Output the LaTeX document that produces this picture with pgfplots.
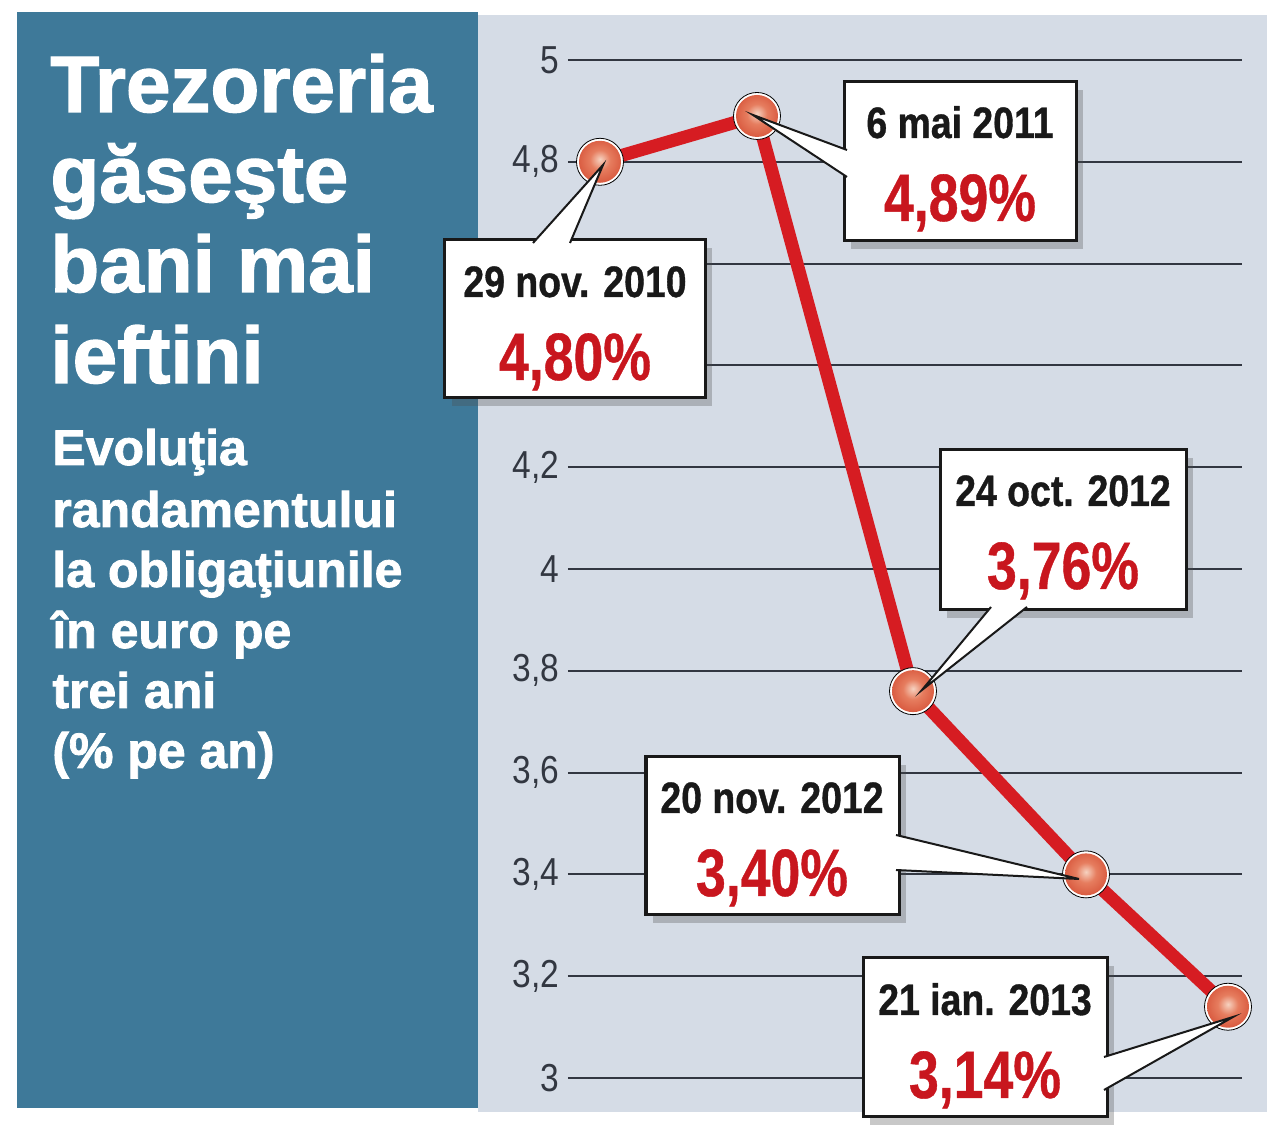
\documentclass[border=0pt]{standalone}
\usepackage{pgfplots}
\pgfplotsset{compat=1.18}
\usepackage{fontspec}
\usetikzlibrary{shadows}
\setmainfont{Liberation Sans}
\newfontfamily\heavyfont{Liberation Sans}[BoldFeatures={FakeBold=1.6}]
\newfontfamily\datefont{Liberation Sans}[FakeStretch=0.85, BoldFeatures={FakeBold=0.8}]
\newfontfamily\valfont{Liberation Sans}[FakeStretch=0.80, BoldFeatures={FakeBold=0.6}]
\newfontfamily\tickfont{Liberation Sans}[FakeStretch=0.86]

\definecolor{panelblue}{RGB}{62,121,153}
\definecolor{panelgray}{RGB}{213,220,230}
\definecolor{gridgray}{RGB}{50,55,65}
\definecolor{linered}{RGB}{214,28,34}
\definecolor{valred}{RGB}{200,22,30}
\definecolor{textblack}{RGB}{25,25,25}
\definecolor{sph0}{RGB}{246,210,192}
\definecolor{sph1}{RGB}{230,125,95}
\definecolor{sph2}{RGB}{214,82,56}
\definecolor{sph3}{RGB}{186,56,38}

% soft sphere for the data points
\pgfdeclareradialshading{sphere}{\pgfpoint{0bp}{3bp}}{%
  color(0bp)=(sph0); color(12bp)=(sph1); color(30bp)=(sph2); color(50bp)=(sph3)}
\pgfdeclareplotmark{sphere}{%
  \pgfpathcircle{\pgfpointorigin}{\pgfplotmarksize}%
  \pgfshadepath{sphere}{0}%
  \pgfusepath{}}

% one unit = one pixel of the reference, y downwards; axis box starts at (568,1078)
\tikzset{px/.style={x=0.5pt, y=-0.5pt, shift={(-284pt,539pt)}},
  callout/.style={fill=white, draw=textblack, line width=1.5pt,
    drop shadow={shadow xshift=3.5pt, shadow yshift=-4pt, opacity=0.3, fill=black!70}}}

% box corners, two tail base points, tip, centre x, baseline, texts
\newcommand{\callout}[9]{%
  \draw[callout] #1 rectangle #2;
  \fill[white] #3 -- #5 -- #4 -- cycle;
  \draw[textblack, line width=1pt] #3 -- #5 -- #4;
  \node[anchor=base, inner sep=0pt, text=textblack,
    font=\datefont\bfseries\fontsize{22}{22}\selectfont] at (#6,#7) {#8};
  \node[anchor=base, inner sep=0pt, text=valred,
    font=\valfont\bfseries\fontsize{33.5}{33.5}\selectfont] at (#6,{#7+83}) {#9};
}

\begin{document}
\begin{tikzpicture}
\begin{scope}[px]
  \fill[white] (0,0) rectangle (1280,1134);
  \fill[panelblue] (17,12) rectangle (478,1108);
  \fill[panelgray] (478,15) rectangle (1267,1112);
  \begin{scope}[font=\heavyfont\bfseries\fontsize{40}{45}\selectfont, text=white]
    \node[anchor=base west, inner sep=0pt] at (50,112) {Trezoreria};
    \node[anchor=base west, inner sep=0pt] at (50,202) {găseşte};
    \node[anchor=base west, inner sep=0pt] at (50,292) {bani mai};
    \node[anchor=base west, inner sep=0pt] at (50,383) {ieftini};
  \end{scope}
  \begin{scope}[font=\heavyfont\bfseries\fontsize{25}{30}\selectfont, text=white]
    \node[anchor=base west, inner sep=0pt] at (52,465) {Evoluţia};
    \node[anchor=base west, inner sep=0pt] at (52,527) {randamentului};
    \node[anchor=base west, inner sep=0pt] at (52,587) {la obligaţiunile};
    \node[anchor=base west, inner sep=0pt] at (52,648) {în euro pe};
    \node[anchor=base west, inner sep=0pt] at (52,708) {trei ani};
    \node[anchor=base west, inner sep=0pt] at (52,768) {(\% pe an)};
  \end{scope}
\end{scope}

\begin{axis}[
    at={(0,0)}, anchor=south west,
    scale only axis,
    width=337pt, height=509pt,
    xmin=568, xmax=1242,
    ymin=3, ymax=5,
    xtick=\empty,
    ytick={3,3.2,3.4,3.6,3.8,4,4.2,4.8,5},
    extra y ticks={4.4,4.6},
    extra y tick labels={},
    extra y tick style={grid=major},
    ymajorgrids=true,
    grid style={line width=1pt, color=gridgray},
    axis line style={draw=none},
    major tick length=0pt,
    yticklabel style={font=\tickfont\fontsize{19.5}{19.5}\selectfont,
      text=gridgray, anchor=east, inner sep=0pt, xshift=-4pt},
    /pgf/number format/.cd, use comma, fixed, assume math mode=true,
    /pgfplots/.cd,
    clip=false,
]
\addplot[color=linered, line width=6.5pt, line join=round] coordinates {
    (600,4.80) (757,4.89) (913,3.76) (1086,3.40) (1228,3.14)
};
\addplot[only marks, mark=*, mark size=11.75pt, mark options={fill=white, draw=none}] coordinates {
    (600,4.80) (757,4.89) (913,3.76) (1086,3.40) (1228,3.14)
};
\addplot[only marks, mark=sphere, mark size=10.5pt] coordinates {
    (600,4.80) (757,4.89) (913,3.76) (1086,3.40) (1228,3.14)
};
\end{axis}

\begin{scope}[px]
  \callout{(445,240)}{(705,398)}{(533,243)}{(570,243)}{(603,165)}{575}{297}{29 nov. 2010}{4,80\%}
  \callout{(844,82)}{(1076,241)}{(847,150)}{(847,177)}{(753,115)}{960}{138}{6 mai 2011}{4,89\%}
  \callout{(940,450)}{(1186,610)}{(991,607)}{(1027,607)}{(922,690)}{1063}{506}{24 oct. 2012}{3,76\%}
  \callout{(646,757)}{(899,915)}{(896,835)}{(896,870)}{(1079,879)}{772}{813}{20 nov. 2012}{3,40\%}
  \callout{(863,958)}{(1107,1117)}{(1104,1057)}{(1104,1090)}{(1233,1017)}{985}{1015}{21 ian. 2013}{3,14\%}
\end{scope}
\end{tikzpicture}
\end{document}
